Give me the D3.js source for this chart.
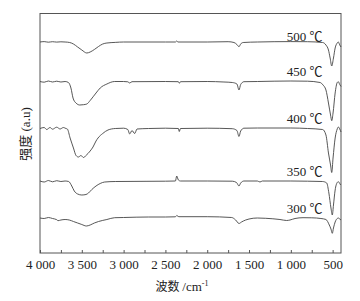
<!DOCTYPE html>
<html>
<head>
<meta charset="utf-8">
<script src="https://cdn.jsdelivr.net/npm/d3@7"></script>
<style>
  body { margin: 0; background: #fff; }
  svg { display: block; }
</style>
</head>
<body>
<div id="chart"></div>
<script>
// FTIR spectra at different calcination temperatures, [wavenumber, intensity]
const s500 = [[4000,211],[3950,211.4],[3900,210.8],[3850,211.3],[3800,210.9],[3750,211.2],[3700,211],[3645,210.5],[3600,209],[3550,206],[3500,203],[3440,200],[3400,201],[3350,203.5],[3300,206.5],[3250,209],[3200,210],[3100,210.6],[3000,211],[2500,211],[2380,211],[2365,212],[2350,211],[2000,211],[1750,211.3],[1680,210.5],[1645,208.5],[1620,206.3],[1600,209],[1570,210.5],[1400,211],[1000,211.4],[800,211.3],[620,210.5],[580,208],[550,203],[530,195],[511,187],[490,195],[470,205],[445,210],[432,211],[415,208],[400,206]];
const s450 = [[4000,171.5],[3950,170.8],[3900,172],[3850,171],[3800,171.8],[3750,171],[3700,171.5],[3660,170.5],[3630,165],[3605,155],[3570,150],[3525,148],[3480,148.3],[3440,149],[3400,152.5],[3330,160],[3280,165],[3200,169],[3107,171.5],[3000,171.5],[2950,171.2],[2927,170],[2900,171.3],[2500,171.5],[2345,171.3],[2334,169.7],[2320,171.3],[2000,171.5],[1800,171],[1700,170.5],[1645,169],[1620,163],[1600,168.5],[1560,171.3],[1400,171.5],[1000,172],[800,171.8],[650,170.5],[615,168],[580,163],[550,150],[525,138],[511,132.3],[495,140],[470,160],[445,170.5],[432,171.3],[415,168.5],[400,166.5]];
const s400 = [[4000,124.5],[3950,125.5],[3920,123.5],[3880,125.5],[3850,123.8],[3800,125.8],[3760,124],[3720,125.5],[3690,124.5],[3673,124],[3640,115],[3600,105],[3569,97.5],[3540,96],[3510,97.5],[3480,95.5],[3450,97.5],[3400,102],[3366,106],[3330,112],[3306,115],[3250,119.5],[3187,123],[3100,124.5],[3000,124.8],[2950,123.5],[2927,119],[2900,122.5],[2867,119.5],[2840,124],[2700,124.5],[2500,124.8],[2345,124.5],[2334,121.5],[2320,124.5],[2000,124.8],[1700,124.3],[1645,122.5],[1620,116.5],[1600,122],[1560,124.8],[1400,125],[1000,125],[800,124.5],[620,123.5],[580,118],[550,100],[525,88],[511,80.5],[495,95],[470,115],[445,124],[432,126],[415,124],[400,121]];
const s350 = [[4000,72],[3950,71],[3900,72.5],[3850,71.2],[3800,72.3],[3750,71.5],[3700,72],[3657,71.5],[3620,67],[3590,62],[3550,59],[3500,58],[3450,58.5],[3420,60],[3380,63.5],[3330,67],[3280,69.5],[3226,71],[3100,71.5],[2500,71.8],[2380,72],[2365,77],[2345,73],[2320,72],[2000,72],[1700,71.8],[1650,70.5],[1620,67],[1600,70],[1560,72],[1400,72],[1369,71],[1340,72],[1000,72],[800,71.8],[620,71.5],[571,70],[545,60],[520,45],[504,38],[490,48],[470,63],[445,70.5],[432,71.3],[415,69.5],[404,68]];
const s300 = [[4000,35],[3950,34.5],[3900,35.5],[3850,34.5],[3800,33.3],[3785,32.3],[3750,33],[3700,33.5],[3650,33],[3600,31.5],[3550,30],[3500,28.5],[3446,27],[3400,28],[3350,30],[3300,31.5],[3200,33.5],[3107,35.3],[3000,35.5],[2700,36],[2500,36],[2380,36.2],[2365,37.5],[2340,36.3],[2000,36.3],[1707,35.5],[1660,33],[1620,29.5],[1590,31],[1540,33],[1500,34],[1400,35],[1300,34.7],[1130,33.5],[1050,32.5],[1010,33],[950,34.5],[854,35.3],[750,35.2],[640,34.5],[580,33.5],[540,28],[520,24],[504,19.7],[490,25],[470,31],[445,34.5],[432,35],[415,34],[400,33]];

const series = [s500, s450, s400, s350, s300];
const seriesLabels = ["500 ℃", "450 ℃", "400 ℃", "350 ℃", "300 ℃"];
const labelPos = [[500, 212], [500, 177], [500, 130], [500, 77], [500, 40]];  // label anchor in data units
const tickValues = d3.range(4000, 499, -250);
const tickLabels = [4000, 3500, 3000, 2500, 2000, 1500, 1000, 500];

const width = 360, height = 301;
const margin = {left: 40, right: 19, top: 13.5, bottom: 48};

const svg = d3.select("#chart")
    .append("svg")
    .attr("width", width)
    .attr("height", height);

// set up x and y
let x = d3.scaleLinear()
    .domain([4000, 400])
    .range([margin.left, width - margin.right]);
let y = d3.scaleLinear()
    .domain([0, 239.5])
    .range([height - margin.bottom, margin.top]);

let fmt = d => d >= 1000 ? String(d).replace(/(\d)(\d{3})$/, "$1 $2") : String(d);

// bottom axis, ticks inward
let xAxis = svg.append("g")
    .attr("transform", `translate(0,${height - margin.bottom})`)
    .call(d3.axisBottom(x)
        .tickValues(tickValues)
        .tickSizeInner(-3)
        .tickSizeOuter(0)
        .tickFormat(d => tickLabels.includes(d) ? fmt(d) : ""));
xAxis.select(".domain").remove();
xAxis.selectAll("line").attr("stroke", "#555");
xAxis.selectAll("text")
    .attr("y", 13)
    .attr("dy", "0.2em")
    .attr("fill", "#222")
    .style("font-family", "'Liberation Serif', 'DejaVu Serif', serif")
    .style("font-size", "13px");

// frame
svg.append("rect")
    .attr("x", margin.left)
    .attr("y", margin.top)
    .attr("width", width - margin.left - margin.right)
    .attr("height", height - margin.top - margin.bottom)
    .attr("fill", "none")
    .attr("stroke", "#555")
    .attr("stroke-width", 1);

let line = d3.line()
    .x(d => x(d[0]))
    .y(d => y(d[1]))
    .curve(d3.curveMonotoneX);

svg.selectAll("path.spec")
    .data(series)
    .join("path")
    .attr("class", "spec")
    .attr("d", line)
    .attr("fill", "none")
    .attr("stroke", "#444")
    .attr("stroke-width", 0.9);

svg.selectAll("text.lab")
    .data(seriesLabels)
    .join("text")
    .attr("class", "lab")
    .attr("x", (d, i) => x(labelPos[i][0]) - 10)
    .attr("y", (d, i) => y(labelPos[i][1]))
    .attr("text-anchor", "end")
    .attr("fill", "#222")
    .style("font-family", "'Liberation Serif', 'Noto Sans CJK SC', serif")
    .style("font-size", "13px")
    .text(d => d);

// axis titles
let xt = svg.append("text")
    .attr("x", 182)
    .attr("y", 291)
    .attr("text-anchor", "middle")
    .attr("fill", "#222")
    .style("font-family", "'Liberation Serif', 'Noto Sans CJK SC', serif")
    .style("font-size", "13px");
xt.append("tspan").style("font-family", "'Noto Sans CJK SC'").style("font-size", "12px").text("波数 ");
xt.append("tspan").text("/cm");
xt.append("tspan").attr("dy", -5).style("font-size", "8px").text("-1");

svg.append("text")
    .attr("transform", "translate(30,134) rotate(-90)")
    .attr("text-anchor", "middle")
    .attr("fill", "#222")
    .style("font-family", "'Liberation Serif', 'Noto Sans CJK SC', serif")
    .style("font-size", "13px")
    .text("强度 (a.u)");
</script>
</body>
</html>
